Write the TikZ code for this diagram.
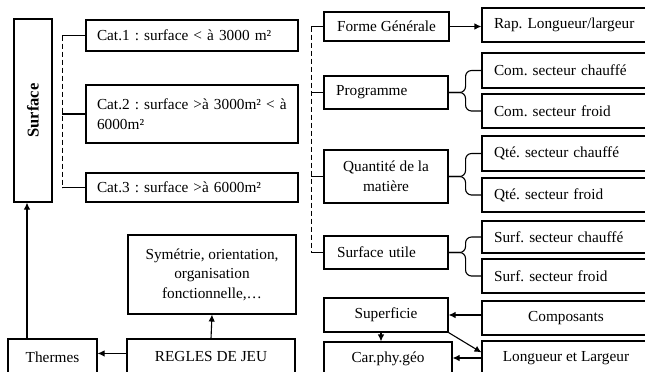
\documentclass[tikz,border=0pt]{standalone}
\usepackage{fontspec}
\setmainfont{Liberation Serif}
\usepackage{graphicx}
\usepackage{tikz}
\usetikzlibrary{arrows.meta,calc}
\frenchspacing

\begin{document}
\begin{tikzpicture}[x=1pt, y=-1pt,
    box/.style={draw, line width=1.1pt, inner sep=0pt, font=\fontsize{15.3}{19.5}\selectfont},
    lbox/.style={box, align=left, text width=#1},
    cbox/.style={box, align=center},
    arr/.style={-{Latex[length=7pt,width=6.5pt]}, line width=1.1pt},
    tick/.style={line width=1.1pt},
    dashline/.style={line width=1.2pt, dash pattern=on 5pt off 3pt},
    brace/.style={line width=1.1pt, rounded corners=6pt}]
  \useasboundingbox (0,0) rectangle (645,372);

  % left part
  \node[box, minimum width=38pt, minimum height=183pt] (surf) at (33,110.5)
    {\rotatebox{90}{\fontsize{16.5}{18}\selectfont\bfseries Surface}};
  \node[lbox=190pt, minimum width=212pt, minimum height=31pt] (cat1) at (192,35.5) {Cat.1 : surface < à 3000 m²};
  \node[lbox=190pt, minimum width=212pt, minimum height=58pt] (cat2) at (192,114) {Cat.2 : surface >à 3000m² < à\\6000m²};
  \node[lbox=190pt, minimum width=212pt, minimum height=29pt] (cat3) at (192,187.5) {Cat.3 : surface >à 6000m²};
  \node[cbox, minimum width=168pt, minimum height=79pt] (sym) at (212,274.5) {Symétrie, orientation,\\organisation\\fonctionnelle,…};
  \node[cbox, minimum width=168pt, minimum height=36pt] (regles) at (211,357) {REGLES DE JEU};
  \node[cbox, minimum width=89pt, minimum height=36pt] (thermes) at (52.5,357) {Thermes};

  % right part
  \node[cbox, minimum width=125pt, minimum height=29pt] (forme) at (386.5,26.5) {Forme Générale};
  \node[lbox=144pt, minimum width=168pt, minimum height=34pt] (rap) at (566,25) {Rap. Longueur/largeur};
  \node[lbox=100pt, minimum width=124pt, minimum height=33pt] (prog) at (386,92.5) {Programme};
  \node[lbox=144pt, minimum width=168pt, minimum height=35pt] (comc) at (566,70.5) {Com. secteur chauffé};
  \node[lbox=144pt, minimum width=168pt, minimum height=34pt] (comf) at (566,111) {Com. secteur froid};
  \node[cbox, minimum width=124pt, minimum height=53pt] (quant) at (386,176.5) {Quantité de la\\matière};
  \node[lbox=144pt, minimum width=168pt, minimum height=35pt] (qtec) at (566,153.5) {Qté. secteur chauffé};
  \node[lbox=144pt, minimum width=168pt, minimum height=34pt] (qtef) at (566,195) {Qté. secteur froid};
  \node[lbox=98pt, minimum width=124pt, minimum height=33pt] (sutil) at (386,252.5) {Surface utile};
  \node[lbox=144pt, minimum width=168pt, minimum height=32pt] (surfc) at (566,237) {Surf. secteur chauffé};
  \node[lbox=144pt, minimum width=168pt, minimum height=34pt] (surff) at (566,276) {Surf. secteur froid};
  \node[cbox, minimum width=124pt, minimum height=34pt] (superf) at (386,315) {Superficie};
  \node[cbox, minimum width=168pt, minimum height=34pt] (compo) at (566,318) {Composants};
  \node[cbox, minimum width=128pt, minimum height=33pt] (carphy) at (388,358.5) {Car.phy.géo};
  \node[cbox, minimum width=168pt, minimum height=34pt] (longueur) at (566,358) {Longueur et Largeur};

  % dashed brackets
  \draw[tick] (cat1.west) -- ++(-23,0) coordinate (c1);
  \draw[tick] (cat2.west) -- ++(-23,0);
  \draw[tick] (cat3.west) -- ++(-23,0) coordinate (c3);
  \draw[dashline] (c1) -- (c3);
  \draw[tick] (forme.west) -- ++(-12,0) coordinate (f1);
  \draw[tick] (prog.west) -- ++(-12,0);
  \draw[tick] (quant.west) -- ++(-12,0);
  \draw[tick] (sutil.west) -- ++(-12,0) coordinate (f4);
  \draw[dashline] (f1) -- (f4);

  % braces
  \foreach \a/\b/\c in {prog/comc/comf, quant/qtec/qtef, sutil/surfc/surff} {
    \draw[brace] (\a.east) -- ++(17,0) |- (\b.west);
    \draw[brace] (\a.east) -- ++(17,0) |- (\c.west);
  }

  % arrows
  \draw[arr] (forme.east) -- (forme.east -| rap.west);
  \draw[arr] ([xshift=-6pt]surf.south |- thermes.north) -- ([xshift=-6pt]surf.south);
  \draw[arr] ([yshift=-15pt]regles.north west) -- ([yshift=-15pt]thermes.north east);
  \draw[arr] (regles.north) -- (sym.south);
  \draw[arr] (compo.west |- superf.east) -- (superf.east);
  \draw[arr] ([xshift=-5pt]superf.south) -- ([xshift=-5pt]superf.south |- carphy.north);
  \draw[arr] (superf.south east) -- ([yshift=-12pt]longueur.north west);
  \draw[arr] (longueur.west) -- (longueur.west -| carphy.east);
\end{tikzpicture}
\end{document}
